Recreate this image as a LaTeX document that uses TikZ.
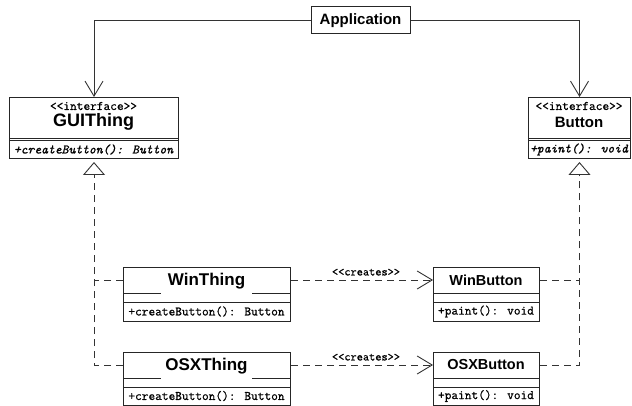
\documentclass[tikz,border=0pt]{standalone}
\usepackage{fontspec}
\setmainfont{Liberation Sans}
\newfontfamily\umlmono{Latin Modern Mono}[FakeBold=0.8]
\usetikzlibrary{arrows.meta,calc}
\tikzset{
  cls/.style={draw=black!85, line width=1pt, inner sep=0pt, anchor=north west, fill=white},
  ttl/.style={font=\bfseries\fontsize{17}{19}\selectfont, inner sep=0pt},
  mono/.style={font=\umlmono\fontsize{13}{15}\selectfont, inner sep=0pt},
  imono/.style={font=\umlmono\itshape\fontsize{13}{15}\selectfont, inner sep=0pt},
  conn/.style={line width=0.9pt, draw=black!80},
  dsh/.style={conn, dash pattern=on 7pt off 5pt},
  vee/.style={-{Straight Barb[length=15pt,width=18pt,line width=0.9pt]}},
  tri/.style={-{Triangle[open,length=13pt,width=22pt,fill=white,line width=0.9pt]}},
  sep/.style={draw=black!85, line width=0.9pt},
  whitettl/.style={ttl, fill=white, minimum width=91pt, minimum height=26pt}
}
\begin{document}
\begin{tikzpicture}[x=1pt,y=-1pt]
\useasboundingbox (0,0) rectangle (632,406);
\fill[white] (0,0) rectangle (632,406);

% Application
\node[draw=black!85, line width=1pt, minimum width=99pt, minimum height=27pt, inner sep=0pt,
      font=\bfseries\fontsize{15}{17}\selectfont] (app) at (360.5,20.5) {Application};

% GUIThing
\node[cls, minimum width=169pt, minimum height=61pt] (gui) at (9,97) {};
\node[mono] (guist) at (93.5,106) {{<}{<}interface{>}{>}};
\node[ttl, font=\bfseries\fontsize{18}{20}\selectfont] (guit) at (93.5,122) {GUIThing};
\draw[sep] (gui.west |- 0,138.5) -- (gui.east |- 0,138.5);
\draw[sep] (gui.west |- 0,140.5) -- (gui.east |- 0,140.5);
\node[imono] (guim) at (93.5,149.5) {+createButton(): Button};

% Button
\node[cls, minimum width=102pt, minimum height=61pt] (btn) at (528,97) {};
\node[mono] (btnst) at (579,106) {{<}{<}interface{>}{>}};
\node[ttl, font=\bfseries\fontsize{15}{17}\selectfont] (btnt) at (579,122) {Button};
\draw[sep] (btn.west |- 0,138.5) -- (btn.east |- 0,138.5);
\draw[sep] (btn.west |- 0,140.5) -- (btn.east |- 0,140.5);
\node[imono] (btnm) at (579,149.5) {+paint(): void};

% WinThing
\node[cls, minimum width=167pt, minimum height=54pt] (wint) at (123,267) {};
\draw[sep] (wint.west |- 0,293) -- (wint.east |- 0,293);
\draw[sep] (wint.west |- 0,302) -- (wint.east |- 0,302);
\node[whitettl] (wintt) at (206.5,281) {WinThing};
\node[mono] (wintm) at (206.5,311.5) {+createButton(): Button};

% WinButton
\node[cls, minimum width=106pt, minimum height=54pt] (winb) at (433,267) {};
\draw[sep] (winb.west |- 0,293) -- (winb.east |- 0,293);
\draw[sep] (winb.west |- 0,302) -- (winb.east |- 0,302);
\node[ttl, font=\bfseries\fontsize{14.5}{16}\selectfont] (winbt) at (486,280) {WinButton};
\node[mono] (winbm) at (486,311.5) {+paint(): void};

% OSXThing
\node[cls, minimum width=167pt, minimum height=53pt] (osxt) at (123,352) {};
\draw[sep] (osxt.west |- 0,378) -- (osxt.east |- 0,378);
\draw[sep] (osxt.west |- 0,387) -- (osxt.east |- 0,387);
\node[whitettl] (osxtt) at (206.5,366) {OSXThing};
\node[mono] (osxtm) at (206.5,396) {+createButton(): Button};

% OSXButton
\node[cls, minimum width=106pt, minimum height=53pt] (osxb) at (433,352) {};
\draw[sep] (osxb.west |- 0,378) -- (osxb.east |- 0,378);
\draw[sep] (osxb.west |- 0,387) -- (osxb.east |- 0,387);
\node[ttl, font=\bfseries\fontsize{14.5}{16}\selectfont] (osxbt) at (486,365) {OSXButton};
\node[mono] (osxbm) at (486,396) {+paint(): void};

% Application associations
\draw[conn, vee] (app.west) -| (gui.north);
\draw[conn, vee] (app.east) -| (btn.north);

% realizations
\draw[dsh] (wint.west |- 0,280) -- (gui.south |- 0,280);
\draw[dsh, tri, shorten >=3pt] (osxt.west |- 0,365) -| (gui.south);
\draw[dsh] (winb.east |- 0,280) -- (btn.south |- 0,280);
\draw[dsh, tri, shorten >=3pt] (osxb.east |- 0,365) -| (btn.south);

% creates
\draw[dsh, vee] (wint.east |- 0,280) -- (winb.west |- 0,280)
  node[midway, above=4pt, xshift=4pt, mono, font=\umlmono\fontsize{12}{14}\selectfont] {{<}{<}creates{>}{>}};
\draw[dsh, vee] (osxt.east |- 0,365) -- (osxb.west |- 0,365)
  node[midway, above=4pt, xshift=4pt, mono, font=\umlmono\fontsize{12}{14}\selectfont] {{<}{<}creates{>}{>}};
\end{tikzpicture}
\end{document}
